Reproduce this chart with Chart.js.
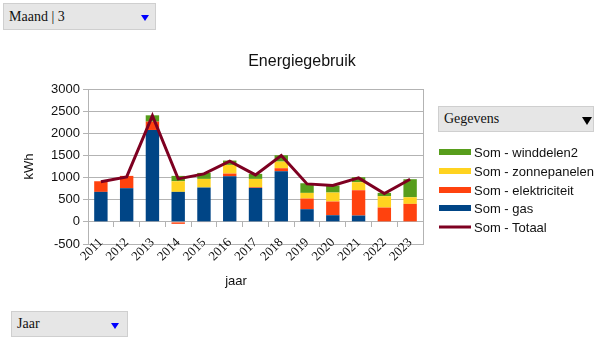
<!DOCTYPE html>
<html>
<head>
<meta charset="utf-8">
<script src="https://cdn.jsdelivr.net/npm/chart.js@4/dist/chart.umd.min.js"></script>
<style>
    body { margin: 0; background: #fff; }
    #wrap { position: relative; width: 606px; height: 341px; overflow: hidden; }
    #chart { position: absolute; left: 0; top: 0; }
    .box {
        position: absolute; background: #e6e6e6; border: 1px solid #cfcfcf; box-sizing: border-box;
        font-family: "Liberation Serif", serif; font-size: 14px; color: #111;
    }
    .box span { position: absolute; left: 5px; top: 50%; transform: translateY(-50%); }
    .tri { position: absolute; width: 0; height: 0; border-left: 4px solid transparent; border-right: 4px solid transparent; }
    .title { position: absolute; font-family: "Liberation Sans", sans-serif; color: #111; white-space: nowrap; transform: translate(-50%, -50%); }
    #legend { position: absolute; left: 439px; top: 143px; font-family: "Liberation Sans", sans-serif; font-size: 13px; color: #111; }
    #legend .row { position: relative; height: 18.7px; }
    #legend .sw { position: absolute; left: 0; width: 32px; top: 50%; transform: translateY(-50%); }
    #legend .lbl { position: absolute; left: 35px; top: 50%; transform: translateY(-50%); white-space: nowrap; }
</style>
</head>
<body>
<div id="wrap">
    <canvas id="chart" width="606" height="341"></canvas>

    <div class="box" style="left:3px; top:3px; width:153px; height:27px;"><span>Maand | 3</span>
        <div class="tri" style="left:137px; top:11px; border-top:6px solid #0000ff;"></div></div>
    <div class="box" style="left:11px; top:311px; width:117px; height:26px;"><span>Jaar</span>
        <div class="tri" style="left:99px; top:11px; border-top:6px solid #0000ff;"></div></div>
    <div class="box" style="left:438px; top:106px; width:156px; height:26px;"><span>Gegevens</span>
        <div class="tri" style="left:143px; top:10px; border-left-width:5px; border-right-width:5px; border-top:8px solid #000;"></div></div>

    <div class="title" style="left:302px; top:61px; font-size:16px;">Energiegebruik</div>
    <div class="title" style="left:236px; top:280px; font-size:13px;">jaar</div>
    <div id="legend"></div>
</div>
<script>
const years = ['2011', '2012', '2013', '2014', '2015', '2016', '2017', '2018', '2019', '2020', '2021', '2022', '2023'];
const gas = [677, 760, 2075, 677, 775, 1030, 767, 1143, 286, 150, 143, 0, 0];
const elektriciteit = [240, 278, 189, -45, -10, 60, 15, 68, 240, 309, 571, 323, 406];
const zonnepanelen = [0, 0, 0, 240, 195, 196, 188, 150, 128, 203, 181, 256, 150];
const winddelen2 = [0, 0, 142, 121, 135, 98, 113, 143, 218, 158, 113, 75, 407];
const totaal = [905, 1015, 2400, 970, 1083, 1369, 1060, 1496, 857, 820, 993, 639, 963];
const yTicks = [-500, 0, 500, 1000, 1500, 2000, 2500, 3000];

const gridGray = '#b3b3b3';

function bar(label, data, color) {
    return { type: 'bar', label: label, data: data, backgroundColor: color, stack: 's', order: 1,
        categoryPercentage: 0.52, barPercentage: 1 };
}

const datasets = [
    bar('Som - gas', gas, '#004586'),
    bar('Som - elektriciteit', elektriciteit, '#ff420e'),
    bar('Som - zonnepanelen', zonnepanelen, '#ffd320'),
    bar('Som - winddelen2', winddelen2, '#579d1c'),
    { type: 'line', label: 'Som - Totaal', data: totaal, borderColor: '#7e0021', backgroundColor: '#7e0021',
      borderWidth: 3, pointRadius: 0, tension: 0, stack: 'totaal', order: 0 }
];

// legend, top entry is the top of the stack
const legendOrder = [3, 2, 1, 0, 4];
const legend = document.getElementById('legend');
legendOrder.forEach(i => {
    const ds = datasets[i];
    const row = document.createElement('div');
    row.className = 'row';
    const h = ds.type === 'line' ? 3 : 6;
    row.innerHTML = `<div class="sw" style="height:${h}px;background:${ds.backgroundColor}"></div><div class="lbl">${ds.label}</div>`;
    legend.appendChild(row);
});

new Chart(document.getElementById('chart'), {
    data: { labels: years, datasets: datasets },
    options: {
        responsive: false,
        animation: false,
        layout: { padding: { top: 89, right: 183, bottom: 97, left: 0 } },
        plugins: { legend: { display: false }, tooltip: { enabled: false } },
        scales: {
            x: {
                stacked: true,
                // placed on the -500 line so the labels may overlap the plot edge, as in the original
                position: { y: -500 },
                grid: { display: false, drawTicks: false },
                border: { color: gridGray },
                ticks: { color: '#111', minRotation: 45, maxRotation: 45, padding: -9, autoSkip: false,
                    font: { family: 'Liberation Serif', size: 13 } }
            },
            x2: {
                type: 'category',
                position: { y: 0 },
                offset: true,
                grid: { offset: true, drawOnChartArea: false, color: gridGray, tickLength: 5 },
                border: { color: gridGray },
                ticks: { display: false }
            },
            y: {
                stacked: true,
                min: -500,
                max: 3000,
                afterBuildTicks: s => { s.ticks = yTicks.map(v => ({ value: v })); },
                grid: { color: gridGray, tickLength: 5 },
                border: { color: gridGray },
                ticks: { color: '#111', padding: 3, font: { family: 'Liberation Sans', size: 13 },
                    callback: v => String(v) },
                title: { display: true, text: 'kWh', color: '#111', padding: { top: 22, bottom: 0 },
                    font: { family: 'Liberation Sans', size: 13 } },
                afterFit: s => { s.width = 88; }
            },
            y2: {
                position: 'right',
                grid: { drawOnChartArea: false, drawTicks: false },
                border: { color: gridGray },
                ticks: { display: false },
                afterFit: s => { s.width = 0; }
            }
        }
    }
});
</script>
</body>
</html>
